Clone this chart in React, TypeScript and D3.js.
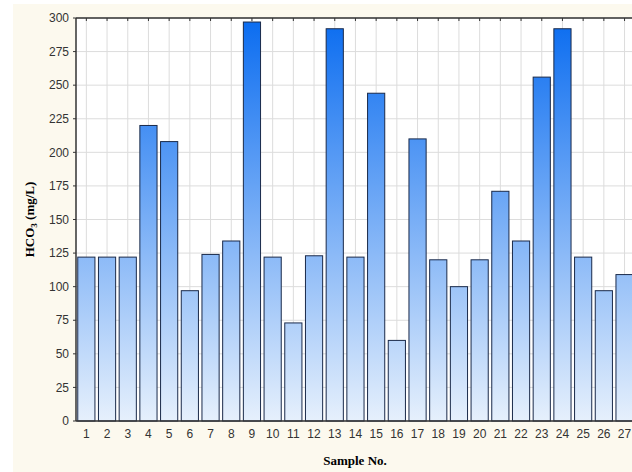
import * as d3 from "d3";

const samples = d3.range(1, 28).map(String);
const hco3 = [122, 122, 122, 220, 208, 97, 124, 134, 297, 122, 73, 123, 292, 122, 244, 60, 210, 120, 100, 120, 171, 134, 256, 292, 122, 97, 109];
const yTicks = d3.range(0, 301, 25);

export default function App() {
  const W = 632, H = 472;
  const left = 76, top = 18, bottom = 421;
  const step = 20.7;
  const x = d3.scaleBand().domain(samples).range([left, left + step * 27]).paddingInner(0.17).paddingOuter(0.085);
  const y = d3.scaleLinear().domain([0, 300]).range([bottom, top]);
  return (
    <svg width={W} height={H} style={{ position: "absolute", left: 0, top: 0 }} fontFamily="Arial, Liberation Sans, sans-serif">
      <defs>
        <linearGradient id="g" x1="0" y1="0" x2="0" y2="1" gradientUnits="userSpaceOnUse" {...{ y1: top, y2: bottom }}>
          <stop offset="0" stopColor="#0a6cf0" />
          <stop offset="1" stopColor="#e6f0fc" />
        </linearGradient>
      </defs>
      <rect x={13} y={4} width={W} height={H} fill="#fcf9ee" />
      <rect x={left} y={top} width={W - left} height={bottom - top} fill="#fff" />
      {yTicks.map(t => (
        <g key={t}>
          <line x1={left} x2={W} y1={y(t)} y2={y(t)} stroke="#dcdcdc" />
          <line x1={left - 3} x2={left} y1={y(t)} y2={y(t)} stroke="#333" />
          <text x={69} y={y(t)} dy="0.35em" textAnchor="end" fontSize={12} fill="#333">{t}</text>
        </g>
      ))}
      {samples.map(s => {
        const cx = x(s)! + x.bandwidth() / 2;
        return (
          <g key={s}>
            <line x1={cx} x2={cx} y1={top} y2={bottom} stroke="#dcdcdc" />
            <line x1={cx} x2={cx} y1={bottom} y2={bottom - 3} stroke="#333" />
            <line x1={cx} x2={cx} y1={top} y2={top + 3} stroke="#333" />
            <text x={cx} y={bottom + 17} textAnchor="middle" fontSize={12} fill="#333">{s}</text>
          </g>
        );
      })}
      {hco3.map((v, i) => (
        <rect key={i} x={x(samples[i])} y={y(v)} width={x.bandwidth()} height={bottom - y(v)} fill="url(#g)" stroke="#1a2a4a" strokeWidth={1} />
      ))}
      <line x1={left} x2={left} y1={top} y2={bottom} stroke="#333" strokeWidth={1.5} />
      <line x1={left} x2={W} y1={bottom} y2={bottom} stroke="#333" strokeWidth={1.5} />
      <line x1={left} x2={W} y1={top} y2={top} stroke="#333" strokeWidth={1.5} />
      <text x={355} y={465} textAnchor="middle" fontFamily="Liberation Serif, serif" fontWeight="bold" fontSize={13}>Sample No.</text>
      <text transform={`translate(34,${(top + bottom) / 2}) rotate(-90)`} textAnchor="middle" fontFamily="Liberation Serif, serif" fontWeight="bold" fontSize={13}>
        HCO<tspan fontSize={9} dy={3}>3</tspan><tspan dy={-3}> (mg/L)</tspan>
      </text>
    </svg>
  );
}
